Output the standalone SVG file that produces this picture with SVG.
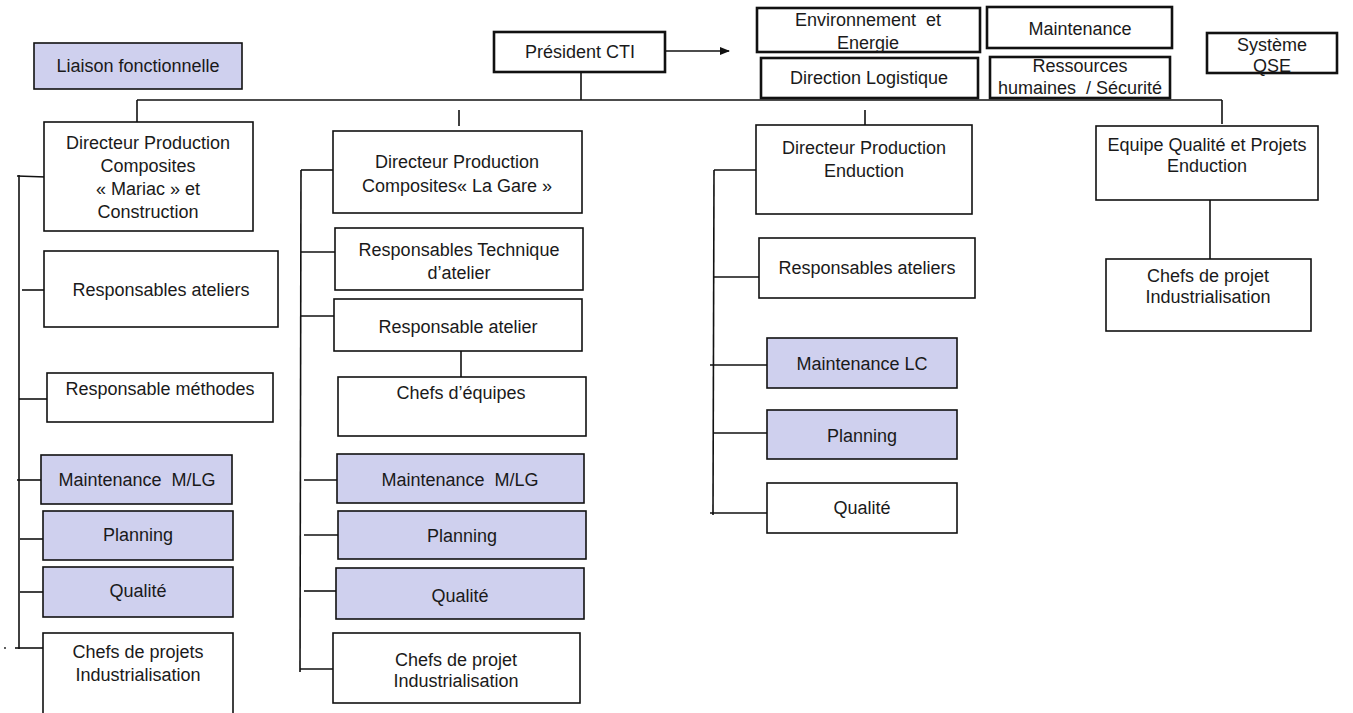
<svg xmlns="http://www.w3.org/2000/svg" width="1353" height="713" viewBox="0 0 1353 713">
<style>
.b{fill:#fff;stroke:#111;stroke-width:1.6}
.f{fill:#cfd0ee;stroke:#111;stroke-width:1.6}
.t{fill:#fff;stroke:#111;stroke-width:2.6}
text{font-family:"Liberation Sans",Arial,sans-serif;font-size:18px;fill:#1a1a1a;text-anchor:middle;white-space:pre}
.c line{stroke:#111;stroke-width:1.6}
</style>
<defs><marker id="ar" markerWidth="10" markerHeight="10" refX="9" refY="5" orient="auto" markerUnits="userSpaceOnUse"><path d="M0,1 L10,5 L0,9 z" fill="#111"/></marker></defs>
<rect width="1353" height="713" fill="#fff"/>
<g class="c" id="connectors">
<line x1="665" y1="51" x2="729" y2="51" marker-end="url(#ar)"/>
<line x1="581" y1="72" x2="581" y2="100"/>
<line x1="137" y1="100" x2="1222" y2="100"/>
<line x1="137" y1="100" x2="137" y2="122"/>
<line x1="459" y1="110" x2="459" y2="126"/>
<line x1="865" y1="110" x2="865" y2="125"/>
<line x1="1222" y1="100" x2="1222" y2="124"/>
<line x1="19" y1="175" x2="19" y2="649"/>
<line x1="17" y1="176" x2="46" y2="177"/>
<line x1="22" y1="290" x2="44" y2="290"/>
<line x1="19" y1="399" x2="50" y2="399"/>
<line x1="17" y1="480" x2="41" y2="480"/>
<line x1="20" y1="539" x2="43" y2="539"/>
<line x1="20" y1="592" x2="43" y2="592"/>
<line x1="15" y1="648" x2="43" y2="648"/>
<line x1="301" y1="170" x2="300" y2="672"/>
<line x1="301" y1="170" x2="333" y2="170"/>
<line x1="301" y1="252" x2="335" y2="252"/>
<line x1="301" y1="316" x2="334" y2="316"/>
<line x1="461" y1="349" x2="461" y2="377"/>
<line x1="304" y1="480" x2="337" y2="480"/>
<line x1="304" y1="535" x2="338" y2="535"/>
<line x1="304" y1="591" x2="336" y2="591"/>
<line x1="300" y1="669" x2="333" y2="669"/>
<line x1="714" y1="170" x2="713" y2="515"/>
<line x1="714" y1="170" x2="757" y2="170"/>
<line x1="713" y1="277" x2="759" y2="277"/>
<line x1="710" y1="365" x2="767" y2="365"/>
<line x1="713" y1="433" x2="767" y2="433"/>
<line x1="710" y1="513" x2="770" y2="513"/>
<line x1="1210" y1="200" x2="1210" y2="259"/>
</g>
<circle cx="5" cy="648" r="0.9" fill="#111"/>
<g id="liaison"><rect class="f" x="34" y="43" width="208" height="46"/><text x="138" y="72">Liaison fonctionnelle</text></g>
<g id="president"><rect class="t" x="494" y="32" width="171" height="40"/><text x="580" y="58">Président CTI</text></g>
<g id="env"><rect class="t" x="757" y="8" width="223" height="44"/><text x="868" y="26">Environnement  et</text><text x="868" y="49">Energie</text></g>
<g id="maint-top"><rect class="t" x="987" y="7" width="185" height="41"/><text x="1080" y="35">Maintenance</text></g>
<g id="logistique"><rect class="t" x="761" y="58" width="217" height="40"/><text x="869" y="84">Direction Logistique</text></g>
<g id="rh"><rect class="t" x="990" y="57" width="180" height="41"/><text x="1080" y="72">Ressources</text><text x="1080" y="94">humaines  / Sécurité</text></g>
<g id="qse"><rect class="t" x="1207" y="33" width="130" height="40"/><text x="1272" y="51">Système</text><text x="1272" y="72">QSE</text></g>

<g id="dir1"><rect class="b" x="44" y="122" width="209" height="109"/><text x="148" y="149">Directeur Production</text><text x="148" y="172">Composites</text><text x="148" y="195">« Mariac » et</text><text x="148" y="218">Construction</text></g>
<g id="c1-resp"><rect class="b" x="44" y="251" width="234" height="76"/><text x="161" y="296">Responsables ateliers</text></g>
<g id="c1-meth"><rect class="b" x="47" y="373" width="226" height="49"/><text x="160" y="395">Responsable méthodes</text></g>
<g id="c1-maint"><rect class="f" x="41" y="455" width="191" height="49"/><text x="137" y="486">Maintenance  M/LG</text></g>
<g id="c1-plan"><rect class="f" x="43" y="511" width="190" height="49"/><text x="138" y="541">Planning</text></g>
<g id="c1-qual"><rect class="f" x="43" y="567" width="190" height="50"/><text x="138" y="597">Qualité</text></g>
<g id="c1-chefs"><rect class="b" x="43" y="633" width="190" height="82"/><text x="138" y="658">Chefs de projets</text><text x="138" y="681">Industrialisation</text></g>

<g id="dir2"><rect class="b" x="333" y="131" width="249" height="82"/><text x="457" y="168">Directeur Production</text><text x="457" y="192">Composites« La Gare »</text></g>
<g id="c2-tech"><rect class="b" x="335" y="228" width="248" height="62"/><text x="459" y="256">Responsables Technique</text><text x="459" y="279">d’atelier</text></g>
<g id="c2-resp"><rect class="b" x="334" y="299" width="248" height="52"/><text x="458" y="333">Responsable atelier</text></g>
<g id="c2-equipes"><rect class="b" x="338" y="377" width="248" height="59"/><text x="461" y="399">Chefs d’équipes</text></g>
<g id="c2-maint"><rect class="f" x="337" y="454" width="247" height="49"/><text x="460" y="486">Maintenance  M/LG</text></g>
<g id="c2-plan"><rect class="f" x="338" y="511" width="248" height="48"/><text x="462" y="542">Planning</text></g>
<g id="c2-qual"><rect class="f" x="336" y="568" width="248" height="51"/><text x="460" y="602">Qualité</text></g>
<g id="c2-chefs"><rect class="b" x="333" y="633" width="247" height="70"/><text x="456" y="666">Chefs de projet</text><text x="456" y="687">Industrialisation</text></g>

<g id="dir3"><rect class="b" x="756" y="125" width="216" height="89"/><text x="864" y="154">Directeur Production</text><text x="864" y="177">Enduction</text></g>
<g id="c3-resp"><rect class="b" x="759" y="238" width="216" height="60"/><text x="867" y="274">Responsables ateliers</text></g>
<g id="c3-maint"><rect class="f" x="767" y="338" width="190" height="50"/><text x="862" y="370">Maintenance LC</text></g>
<g id="c3-plan"><rect class="f" x="767" y="410" width="190" height="49"/><text x="862" y="442">Planning</text></g>
<g id="c3-qual"><rect class="b" x="767" y="483" width="190" height="50"/><text x="862" y="514">Qualité</text></g>

<g id="dir4"><rect class="b" x="1096" y="126" width="222" height="74"/><text x="1207" y="151">Equipe Qualité et Projets</text><text x="1207" y="172">Enduction</text></g>
<g id="c4-chefs"><rect class="b" x="1106" y="259" width="205" height="72"/><text x="1208" y="282">Chefs de projet</text><text x="1208" y="303">Industrialisation</text></g>
</svg>
